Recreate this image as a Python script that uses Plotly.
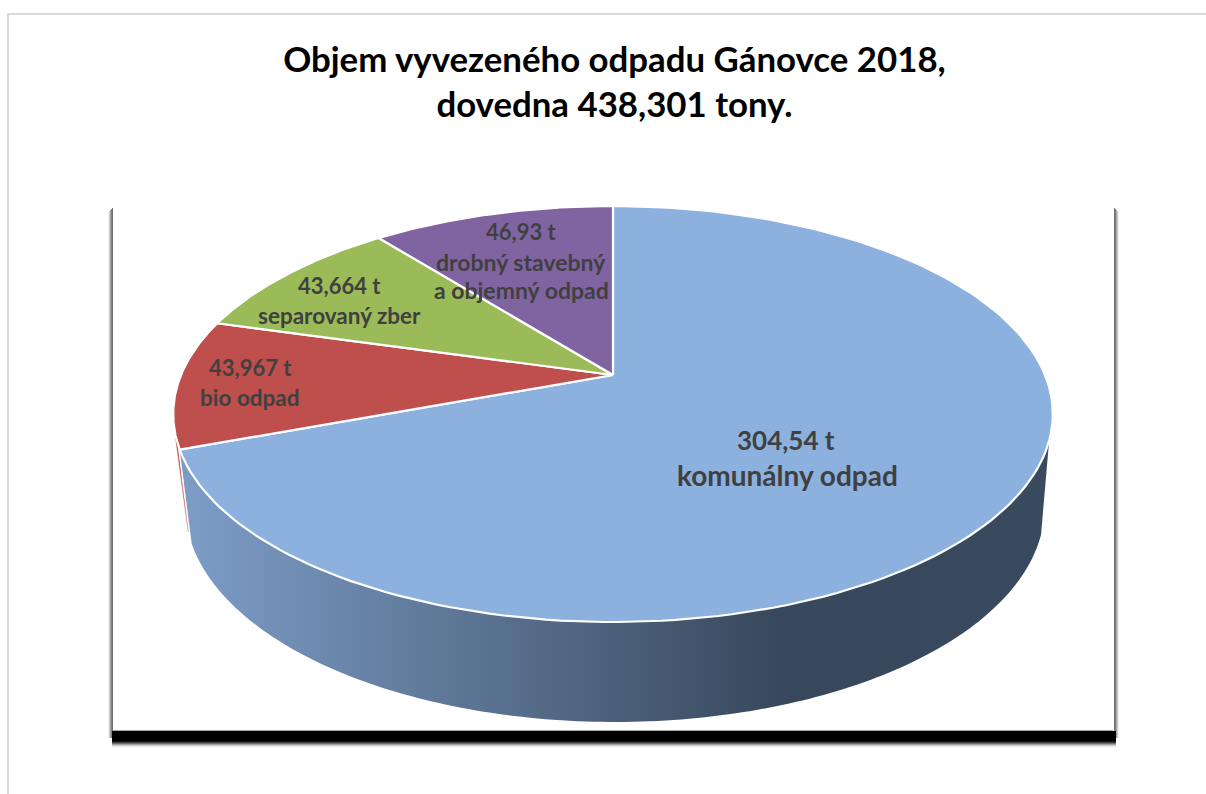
import math
import plotly.graph_objects as go

# ---- data ----
TITLE = "Objem vyvezeného odpadu Gánovce 2018,<br>dovedna 438,301 tony."
categories = ["komunálny odpad", "bio odpad", "separovaný zber", "drobný stavebný|a objemný odpad"]
values = [304.54, 43.967, 43.664, 46.93]
colors = ["#8CB1DF", "#BE4F4C", "#9BBB59", "#8064A2"]

# ---- geometry of the perspective disc (pixel space) ----
TOP = dict(cx=613, K=432, a=-130.4, b=375, c=0.1875)
BASE = dict(cx=615, K=422, a=-120, b=466.6, c=0.1875)
WALL_FROM = 108
LABEL_POS = [
    [(786, 440, 26), (787, 475, 28)],
    [(250, 367, 22), (250, 397, 22.5)],
    [(339, 285, 22), (339, 315, 22.5)],
    [(521, 231, 22), (521, 262, 23), (521, 290, 23)],
]


def proj(p, deg):
    t = math.radians(deg)
    X, Y = math.sin(t), math.cos(t)
    d = 1 + p["c"] * Y
    return p["cx"] + p["K"] * X / d, (p["a"] * Y + p["b"]) / d


def arc(p, d0, d1, n=160):
    pts = [proj(p, d0 + (d1 - d0) * i / n) for i in range(n + 1)]
    return [q[0] for q in pts], [q[1] for q in pts]


total = sum(values)
angles = [0]
for v in values:
    angles.append(angles[-1] + 360 * v / total)

traces = []


def poly(xs, ys, fill, line=None, width=0):
    traces.append(go.Scatter(x=xs, y=ys, mode="lines", fill="toself", fillcolor=fill,
                             line=dict(color=line or fill, width=width),
                             hoverinfo="skip", showlegend=False))


# thin red side sliver left of the first slice's end
a_end = angles[1]
tx, ty = arc(TOP, a_end + 2, a_end + 5, 6)
bx, by = proj(BASE, a_end + 3)
poly(tx + [bx], ty + [by], colors[1], width=0.5)

# front wall with a horizontal gradient
GX0, GX1, GXD = 190, 1040, 780
wx, wy = arc(TOP, WALL_FROM, a_end)
bx2, by2 = arc(BASE, a_end, WALL_FROM)
traces.append(go.Scatter(
    x=wx + bx2 + [wx[0]], y=wy + by2 + [wy[0]], mode="none", fill="toself",
    fillgradient=dict(type="horizontal", start=GX0, stop=GX1,
                      colorscale=[[0, "rgb(124,156,198)"],
                                  [(GXD - GX0) / (GX1 - GX0), "rgb(56,72,92)"],
                                  [1, "rgb(58,74,94)"]]),
    hoverinfo="skip", showlegend=False))

# top face slices
ax, ay = TOP["cx"], TOP["b"]
for i, col in enumerate(colors):
    xs, ys = arc(TOP, angles[i], angles[i + 1])
    poly([ax] + xs + [ax], [ay] + ys + [ay], col, line="#FFFFFF", width=2.2)

# frame and shadow shapes
shapes = []


def rect(x0, y0, x1, y1, col):
    shapes.append(dict(type="rect", x0=x0, y0=y0, x1=x1, y1=y1, xref="x", yref="y",
                       fillcolor=col, line=dict(width=0), layer="below"))


def gray(v):
    return "rgb(%d,%d,%d)" % (v, v, v)


for k, v in enumerate([240, 205, 165, 130, 110]):
    rect(108 + k, 212 - k, 109 + k, 738, gray(v))
    rect(1118 - k, 212 - k, 1119 - k, 738, gray(v))
for k, v in enumerate([0] * 10 + [20, 60, 110, 160, 205, 235, 250]):
    rect(112, 731 + k, 1116, 732 + k, gray(v))
rect(113, 207, 1113, 731, "#FFFFFF")
rect(113, 730, 1113, 731, "#A6A6A6")
rect(8, 13, 1206, 15, "#D9D9D9")
rect(7, 13, 9, 794, "#D9D9D9")

# labels
ann = []
for i, cat in enumerate(categories):
    lines = [f"{values[i]}".replace(".", ",") + " t"] + cat.split("|")
    for text, (x, y, s) in zip(lines, LABEL_POS[i]):
        ann.append(dict(x=x, y=y, xref="x", yref="y", text=text, showarrow=False,
                        xanchor="center", yanchor="middle",
                        font=dict(family="Lato", size=s, color="#404040", weight="bold")))

fig = go.Figure(traces)
fig.update_layout(
    width=1206, height=794, margin=dict(l=0, r=0, t=0, b=0),
    paper_bgcolor="#FFFFFF", plot_bgcolor="#FFFFFF", showlegend=False,
    title=dict(text=TITLE, x=0.5095, xanchor="center", y=0.909, yanchor="middle",
               font=dict(family="Lato", size=34.8, color="#000000", weight="bold")),
    xaxis=dict(range=[0, 1206], visible=False, fixedrange=True),
    yaxis=dict(range=[794, 0], visible=False, fixedrange=True),
    shapes=shapes, annotations=ann,
)
fig.write_html("out.html", config=dict(displayModeBar=False),
               post_script="document.body.style.margin='0';")
